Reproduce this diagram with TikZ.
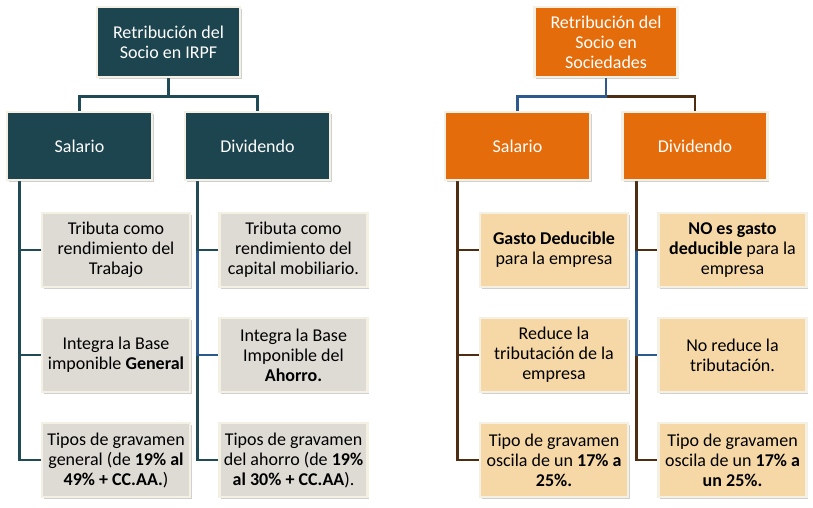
\documentclass[tikz,border=0pt]{standalone}
\usepackage{fontspec}
\setmainfont{Carlito}
\usetikzlibrary{shadows}
\pgfdeclarelayer{bg}
\pgfsetlayers{bg,main}
\definecolor{tealbox}{HTML}{1D4550}
\definecolor{tealline}{HTML}{1F4A56}
\definecolor{blueline}{HTML}{2D5A8C}
\definecolor{brownline}{HTML}{4E2E12}
\definecolor{orangebox}{HTML}{E46C0A}
\definecolor{graybox}{HTML}{DEDAD4}
\definecolor{tanbox}{HTML}{F6D8A6}
\definecolor{rim}{HTML}{F4F0E4}
\tikzset{
  basebox/.style={rectangle, draw=rim, line width=2.4pt, align=center,
    font=\fontsize{18}{20}\selectfont, inner sep=2pt,
    drop shadow={shadow xshift=1.6pt, shadow yshift=-1.8pt, opacity=0.3, fill=black!60}},
  topbox/.style={basebox, minimum width=143pt, minimum height=70pt, text=white},
  midbox/.style={basebox, minimum width=145pt, minimum height=68pt, text=white},
  kidbox/.style={basebox, minimum width=148pt, minimum height=74pt, text=black},
  tealfill/.style={fill=tealbox},
  orangefill/.style={fill=orangebox},
  grayfill/.style={fill=graybox},
  tanfill/.style={fill=tanbox},
  conn/.style={line width=2.9pt},
  tconn/.style={conn, draw=tealline},
  bconn/.style={conn, draw=blueline},
  rconn/.style={conn, draw=brownline}
}
\begin{document}
\begin{tikzpicture}[x=1pt,y=-1pt]
\begin{pgfonlayer}{bg}
\fill[white] (0,0) rectangle (813,508);
\end{pgfonlayer}
\useasboundingbox (0,0) rectangle (813,508);
% ---------- left tree ----------
\node[topbox,tealfill] (TL) at (168.5,42) {Retribución del\\Socio en IRPF};
\node[midbox,tealfill] (LS) at (79.5,146) {Salario};
\node[midbox,tealfill] (LD) at (257.5,146) {Dividendo};
\node[kidbox,grayfill] (LS1) at (116,250) {Tributa como\\rendimiento del\\Trabajo};
\node[kidbox,grayfill] (LS2) at (116,355) {Integra la Base\\imponible \textbf{General}};
\node[kidbox,grayfill] (LS3) at (116,460) {Tipos de gravamen\\general (de \textbf{19\% al}\\\textbf{49\% + CC.AA.})};
\node[kidbox,grayfill] (LD1) at (293.5,250) {Tributa como\\rendimiento del\\capital mobiliario.};
\node[kidbox,grayfill] (LD2) at (293.5,355) {Integra la Base\\Imponible del\\\textbf{Ahorro.}};
\node[kidbox,grayfill] (LD3) at (293.5,460) {Tipos de gravamen\\del ahorro (de \textbf{19\%}\\\textbf{al 30\% + CC.AA}).};
% ---------- right tree ----------
\node[topbox,orangefill] (TR) at (606,42) {Retribución del\\Socio en\\Sociedades};
\node[midbox,orangefill] (RS) at (517.5,146) {Salario};
\node[midbox,orangefill] (RD) at (695,146) {Dividendo};
\node[kidbox,tanfill] (RS1) at (554,250) {\textbf{Gasto Deducible}\\para la empresa};
\node[kidbox,tanfill] (RS2) at (554,355) {Reduce la\\tributación de la\\empresa};
\node[kidbox,tanfill] (RS3) at (554,460) {Tipo de gravamen\\oscila de un \textbf{17\% a}\\\textbf{25\%.}};
\node[kidbox,tanfill] (RD1) at (732.5,250) {\textbf{NO es gasto}\\\textbf{deducible} para la\\empresa};
\node[kidbox,tanfill] (RD2) at (732.5,355) {No reduce la\\tributación.};
\node[kidbox,tanfill] (RD3) at (732.5,460) {Tipo de gravamen\\oscila de un \textbf{17\% a}\\\textbf{un 25\%.}};
% spine coordinates
\coordinate (LSx) at ([xshift=14pt]LS.south west);
\coordinate (LDx) at ([xshift=14pt]LD.south west);
\coordinate (RSx) at ([xshift=14pt]RS.south west);
\coordinate (RDx) at ([xshift=15pt]RD.south west);
\begin{pgfonlayer}{bg}
% left bus
\draw[tconn] (TL.south) -- ++(0,18) -| (LS.north);
\draw[tconn] (TL.south) -- ++(0,18) -| (LD.north);
% left columns
\draw[tconn] (LSx) |- (LS3.west);
\draw[tconn] (LSx) |- (LS2.west);
\draw[tconn] (LSx) |- (LS1.west);
\draw[tconn] (LDx) |- (LD3.west);
\draw[bconn] (LDx) |- (LD2.west);
\draw[tconn] (LDx) |- (LD1.west);
% right bus
\draw[rconn] (TR.south) -- ++(0,18) -| (RD.north);
\draw[bconn] (TR.south) -- ++(0,18) -| (RS.north);
% right columns
\draw[rconn] (RSx) |- (RS3.west);
\draw[rconn] (RSx) |- (RS2.west);
\draw[rconn] (RSx) |- (RS1.west);
\draw[rconn] (RDx) |- (RD3.west);
\draw[bconn] (RDx) |- (RD2.west);
\draw[rconn] (RDx) |- (RD1.west);
\end{pgfonlayer}
\end{tikzpicture}
\end{document}
